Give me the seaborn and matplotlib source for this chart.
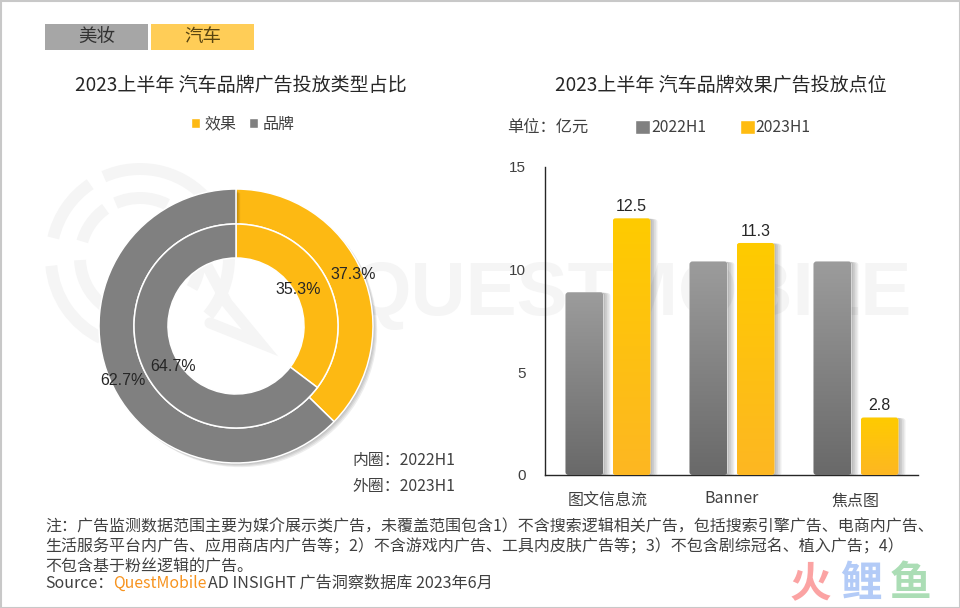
import numpy as np
import pandas as pd
import matplotlib
matplotlib.use("Agg")
import matplotlib.pyplot as plt
import matplotlib.patheffects as pe
from matplotlib.patches import Rectangle, FancyBboxPatch, Patch, Arc
from matplotlib.transforms import ScaledTranslation
from matplotlib.colors import LinearSegmentedColormap
import seaborn as sns

W, H = 960, 608
CJK = ['Noto Sans CJK SC', 'DejaVu Sans']
ARIAL = ['Liberation Sans', 'DejaVu Sans']

tabs = ['美妆', '汽车']
donut_labels = ['效果', '品牌']
inner_share = [35.3, 64.7]
outer_share = [37.3, 62.7]
placements = ['图文信息流', 'Banner', '焦点图']
periods = ['2022H1', '2023H1']
values_2022 = [8.9, 10.4, 10.4]
values_2023 = [12.5, 11.3, 2.8]
y_ticks = [0, 5, 10, 15]
title_left = '2023上半年 汽车品牌广告投放类型占比'
title_right = '2023上半年 汽车品牌效果广告投放点位'
notes = ['注：广告监测数据范围主要为媒介展示类广告，未覆盖范围包含1）不含搜索逻辑相关广告，包括搜索引擎广告、电商内广告、',
         '生活服务平台内广告、应用商店内广告等；2）不含游戏内广告、工具内皮肤广告等；3）不包含剧综冠名、植入广告；4）',
         '不包含基于粉丝逻辑的广告。']

sns.set_theme(style='white')
plt.rcParams['font.family'] = CJK
plt.rcParams['axes.unicode_minus'] = False

YELLOW, GREY = '#FDB913', '#808080'
TXT = '#404040'

fig = plt.figure(figsize=(W / 100, H / 100), dpi=100, facecolor='white')

def box(l, t, r, b):
    return [l / W, 1 - b / H, (r - l) / W, (b - t) / H]

def soft_shadow(dx, dy, n=4, alpha=0.07):
    return [pe.SimplePatchShadow(offset=(dx * (i + 1) / n, dy * (i + 1) / n),
                                 shadow_rgbFace='#000000', alpha=alpha) for i in range(n)[::-1]] + [pe.Normal()]

# pixel overlay behind the charts
bg = fig.add_axes([0, 0, 1, 1], zorder=0)
bg.set_xlim(0, W); bg.set_ylim(H, 0); bg.axis('off')
bg.add_patch(Rectangle((0.5, 0.5), W - 1, H - 1, fill=False, ec='#c8c8c8', lw=1.5))
wm = '#f5f5f5'
bg.text(632, 296, 'QUESTMOBILE', fontsize=55, color=wm, ha='center', va='center',
        family=ARIAL, fontweight='bold')
for d, segs in [(178, [(246, 316), (193, 236), (116, 175), (322, 400)]),
                (120, [(246, 297), (196, 235), (117, 178), (303, 390)])]:
    for a, b in segs:
        bg.add_patch(Arc((140, 258), d, d, theta1=a, theta2=b, color=wm, lw=8.6, capstyle='butt'))
bg.plot([205, 227, 260, 210], [262, 303, 343, 323], color=wm, lw=8, solid_joinstyle='miter')

def T(x, y, s, size=10, color=TXT, ha='left', fam=CJK, **kw):
    return bg.text(x, y, s, fontsize=size, color=color, ha=ha, va='center', family=fam, **kw)

bg.add_patch(Rectangle((45, 24), 103, 26, fc='#a6a6a6', ec='none'))
bg.add_patch(Rectangle((151, 24), 103, 26, fc='#ffcd57', ec='none'))
T(97, 37, tabs[0], 13.3, '#333333', 'center')
T(203, 37, tabs[1], 13.3, '#5a4510', 'center')
T(241, 85, title_left, 13.7, '#262626', 'center')
T(721, 85, title_right, 13.7, '#262626', 'center')
T(507, 127, '单位：亿元', 11.7)
T(352, 460, '内圈：2022H1', 11.4)
T(352, 486, '外圈：2023H1', 11.4)
for i, line in enumerate(notes):
    T(45, 527 + i * 20, line, 11.5)
T(45, 583, 'Source：', 11.5)
T(113, 583, 'QuestMobile', 11.4, '#F7931E')
T(208, 583, 'AD INSIGHT 广告洞察数据库 2023年6月', 11.6)
for x, c, col in [(790, '火', '#FBA3A3'), (840, '鲤', '#B3CBF7'), (890, '鱼', '#ABDDB5')]:
    T(x, 584, c, 30, col, fontweight='bold')

# donut
pie = fig.add_axes(box(99, 189, 373, 463), zorder=2)
rings = [(outer_share, 1.0, 35 / 137, 0.915), (inner_share, 102 / 137, 34 / 102, 0.54 * 137 / 102)]
for k, (share, rad, wid, dist) in enumerate(rings):
    wedges, _, auto = pie.pie(share, radius=rad, startangle=90, counterclock=False,
                              colors=[YELLOW, GREY], autopct='%.1f%%', pctdistance=dist,
                              wedgeprops=dict(width=wid * rad, edgecolor='white', linewidth=1.1))
    for a, (dx, dy) in zip(auto, [(2, 3), (2, -6)] if k == 0 else [(-4, 4), (3, -8)]):
        a.set(fontsize=11.5, color='#262626', family=ARIAL, zorder=6)
        a.set_transform(a.get_transform() + ScaledTranslation(dx / 100, dy / 100, fig.dpi_scale_trans))
    if k == 0:
        for w in wedges:
            w.set_path_effects(soft_shadow(3, -3))
pie.set_xlim(-1, 1); pie.set_ylim(-1, 1); pie.set_aspect('equal'); pie.axis('off'); pie.patch.set_alpha(0)

# bars
df = pd.DataFrame({'点位': placements * 2,
                   '时期': [periods[0]] * 3 + [periods[1]] * 3,
                   '亿元': values_2022 + values_2023})
ax = fig.add_axes(box(545, 167, 918, 475), zorder=2)
ax.patch.set_alpha(0)
sns.barplot(data=df, x='点位', y='亿元', hue='时期', hue_order=periods, order=placements,
            palette=['#808080', '#FFC000'], width=0.76, gap=0.195, ax=ax, legend=False, errorbar=None)
ax.set_xlim(-0.508, 2.5); ax.set_ylim(0, 15)
ax.set_xlabel(''); ax.set_ylabel('')
ax.set_yticks(y_ticks)
ax.tick_params(axis='y', length=0, pad=13.5, labelsize=11, labelcolor='#404040')
ax.tick_params(axis='x', length=0, pad=13, labelsize=11.5, labelcolor='#404040')
for l in ax.get_yticklabels():
    l.set_family(ARIAL)
banner = ax.get_xticklabels()[1]
banner.set_transform(banner.get_transform() + ScaledTranslation(0, 3 / 100, fig.dpi_scale_trans))
for s in ('top', 'right'):
    ax.spines[s].set_visible(False)
for s in ('left', 'bottom'):
    ax.spines[s].set(visible=True, color='#262626', linewidth=1)

cm_grey = LinearSegmentedColormap.from_list('g', ['#9c9c9c', '#696969'])
cm_yel = LinearSegmentedColormap.from_list('y', ['#FFCB00', '#FDB722'])
grad = np.linspace(0, 1, 128)[:, None]
aspect = (373 / 3.008) / (308 / 15)
for cont, cmap in zip(ax.containers, (cm_grey, cm_yel)):
    for bar in cont:
        x, w, h = bar.get_x(), bar.get_width(), bar.get_height()
        bar.set_alpha(0)
        rnd = FancyBboxPatch((x, 0), w, h, boxstyle='round,pad=0,rounding_size=0.024',
                             mutation_aspect=aspect, fc='white', ec='none', zorder=2,
                             path_effects=soft_shadow(5, -0.5))
        ax.add_patch(rnd)
        im = ax.imshow(grad, extent=(x, x + w, 0, h), cmap=cmap, aspect='auto', zorder=3, origin='upper')
        im.set_clip_path(rnd)
ax.set_xlim(-0.508, 2.5); ax.set_ylim(0, 15)
ax.bar_label(ax.containers[1], fmt='%.1f', padding=3, fontsize=11.5, color='#262626', family=ARIAL, zorder=5)

# legends
fig.legend(handles=[Patch(fc=YELLOW, label=donut_labels[0]), Patch(fc=GREY, label=donut_labels[1])],
           loc='center left', bbox_to_anchor=(185 / W, 1 - 124 / H), ncol=2, frameon=False,
           fontsize=11.5, labelcolor=TXT, handlelength=0.55, handleheight=0.55, handletextpad=0.3,
           columnspacing=0.75, borderpad=0, borderaxespad=0.4)
fig.legend(handles=[Patch(fc='#808080', label=periods[0]), Patch(fc='#FFBC11', label=periods[1])],
           loc='center left', bbox_to_anchor=(629 / W, 1 - 128 / H), ncol=2, frameon=False,
           fontsize=11.3, labelcolor=TXT, handlelength=0.96, handleheight=0.96, handletextpad=0.05,
           columnspacing=2.15, borderpad=0, borderaxespad=0.4)

fig.savefig('out.png', dpi=100)
